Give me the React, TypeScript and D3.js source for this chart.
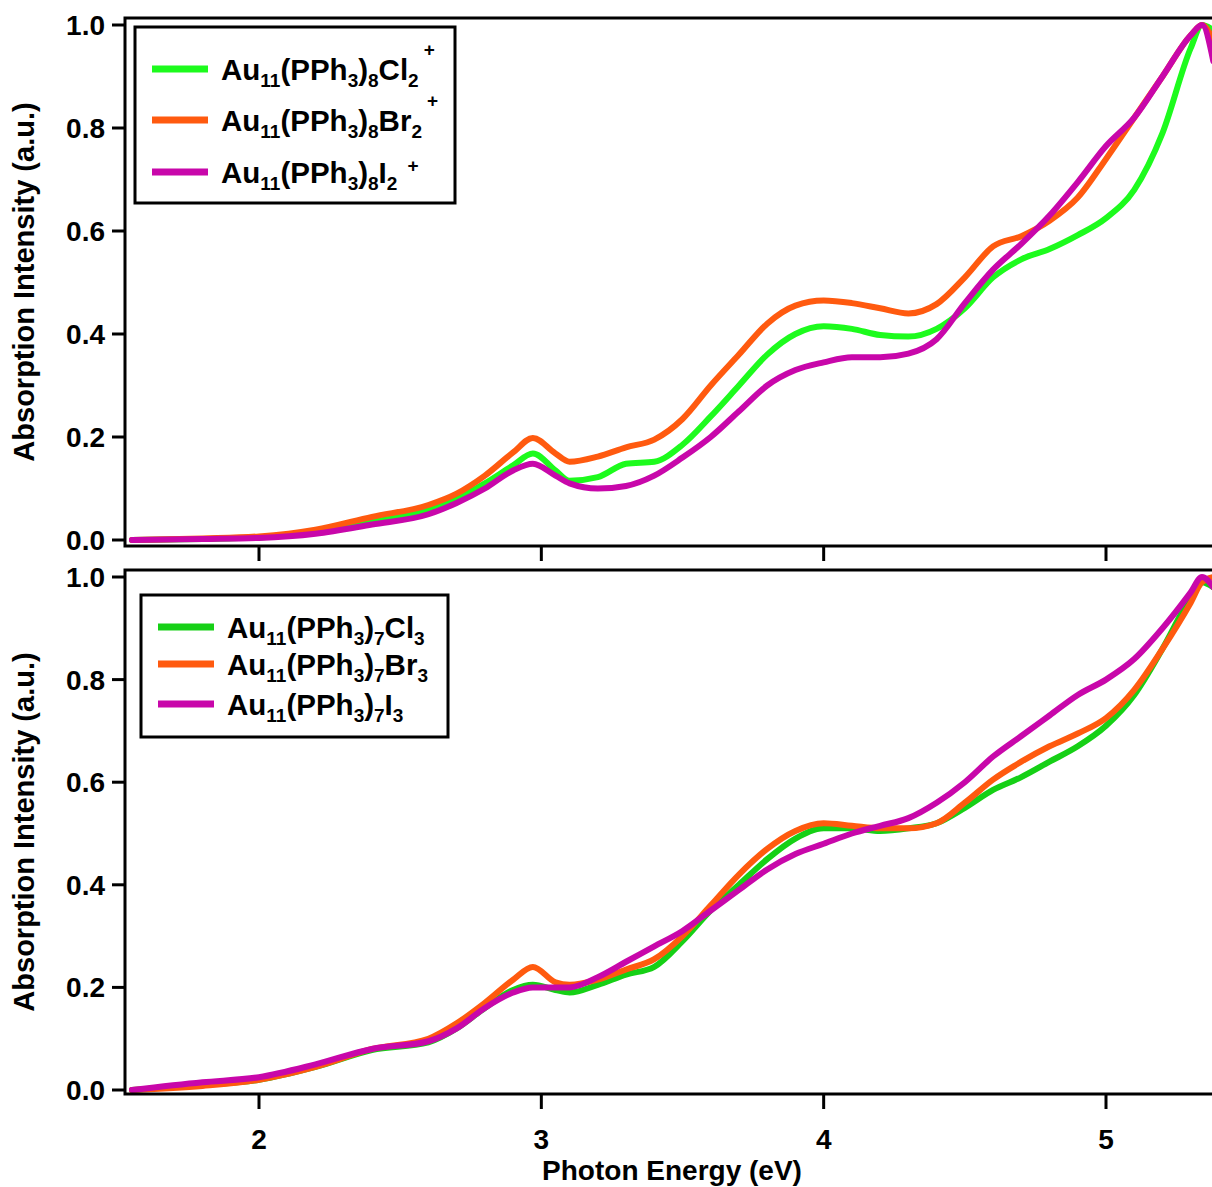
import React from "react";
import * as d3 from "d3";

const energy = [1.55, 1.8, 2.0, 2.2, 2.4, 2.6, 2.7, 2.8, 2.9, 2.97, 3.05, 3.1, 3.2, 3.3, 3.4, 3.5, 3.6, 3.7, 3.8, 3.9, 4.0, 4.1, 4.2, 4.3, 4.4, 4.5, 4.6, 4.7, 4.8, 4.9, 5.0, 5.1, 5.2, 5.3, 5.34, 5.38];

const topCl = [0.0, 0.002, 0.005, 0.015, 0.035, 0.058, 0.08, 0.11, 0.145, 0.168, 0.135, 0.115, 0.122, 0.148, 0.152, 0.185, 0.24, 0.3, 0.36, 0.4, 0.415, 0.41, 0.398, 0.395, 0.41, 0.45, 0.51, 0.545, 0.565, 0.592, 0.625, 0.68, 0.79, 0.955, 1.0, 0.99];
const topBr = [0.0, 0.003, 0.007, 0.02, 0.045, 0.068, 0.09, 0.125, 0.17, 0.198, 0.168, 0.152, 0.162, 0.18, 0.195, 0.235, 0.3, 0.36, 0.42, 0.455, 0.465, 0.46, 0.45, 0.44, 0.458, 0.51, 0.57, 0.59, 0.62, 0.665, 0.74, 0.82, 0.9, 0.98, 1.0, 0.97];
const topI = [0.0, 0.002, 0.004, 0.012, 0.03, 0.05, 0.072, 0.1, 0.135, 0.148, 0.125, 0.11, 0.1, 0.105, 0.125, 0.16, 0.2, 0.25, 0.3, 0.33, 0.345, 0.355, 0.355, 0.362, 0.39, 0.46, 0.525, 0.575, 0.63, 0.695, 0.765, 0.82, 0.9, 0.98, 1.0, 0.93];

const botCl = [0.0, 0.01, 0.02, 0.045, 0.078, 0.093, 0.12, 0.16, 0.195, 0.205, 0.195, 0.19, 0.205, 0.225, 0.24, 0.29, 0.35, 0.4, 0.45, 0.49, 0.51, 0.51, 0.505, 0.51, 0.52, 0.55, 0.585, 0.61, 0.64, 0.67, 0.71, 0.77, 0.86, 0.96, 0.99, 0.98];
const botBr = [0.0, 0.008, 0.02, 0.045, 0.08, 0.1, 0.13, 0.17, 0.215, 0.24, 0.21, 0.205, 0.215, 0.235, 0.255, 0.3, 0.36, 0.42, 0.47, 0.505, 0.52, 0.515, 0.51, 0.51, 0.52, 0.56, 0.605, 0.64, 0.67, 0.695, 0.725, 0.78, 0.86, 0.95, 0.99, 1.0];
const botI = [0.0, 0.015, 0.025, 0.05, 0.08, 0.095, 0.12, 0.16, 0.19, 0.2, 0.2, 0.2, 0.22, 0.25, 0.28, 0.31, 0.35, 0.39, 0.43, 0.46, 0.48, 0.5, 0.515, 0.53, 0.56, 0.6, 0.65, 0.69, 0.73, 0.77, 0.8, 0.84, 0.9, 0.97, 1.0, 0.98];

const xTicks = [2, 3, 4, 5];
const yTicks = [0, 0.2, 0.4, 0.6, 0.8, 1.0];

const COLORS = { greenTop: "#1dfb1d", greenBot: "#16d016", orange: "#ff5a0f", purple: "#c807aa" };

const W = 1212, H = 1187;
const x = d3.scaleLinear().domain([2, 5]).range([259, 1106]);
const yTop = d3.scaleLinear().domain([0, 1]).range([540, 25]);
const yBot = d3.scaleLinear().domain([0, 1]).range([1090, 577]);

const FONT = "'Liberation Sans', Arial, Helvetica, sans-serif";

function Formula({ x0, y0, n, hal, sub, plus, plusLow }: any) {
  return (
    <text x={x0} y={y0} fontFamily={FONT} fontWeight="bold" fontSize={29.5} fill="#000">
      <tspan>Au</tspan>
      <tspan fontSize={19} dy={7}>11</tspan>
      <tspan dy={-7}>(PPh</tspan>
      <tspan fontSize={19} dy={7}>3</tspan>
      <tspan dy={-7}>)</tspan>
      <tspan fontSize={19} dy={7}>{n}</tspan>
      <tspan dy={-7}>{hal}</tspan>
      <tspan fontSize={19} dy={7}>{sub}</tspan>
      {plus ? (
        <tspan fontSize={19} dx={plusLow ? 10 : 5} dy={plusLow ? -18 : -31}>+</tspan>
      ) : null}
    </text>
  );
}

function Panel({ y, top, bottom, series, legend, legendBox }: any) {
  const line = (vals: number[]) =>
    d3.line<number>().x((_, i) => x(energy[i])).y((v) => y(v)).curve(d3.curveMonotoneX)(vals) || "";
  return (
    <g>
      <defs>
        <clipPath id={`clip${top}`}>
          <rect x={125} y={top} width={W} height={bottom - top} />
        </clipPath>
      </defs>
      <g clipPath={`url(#clip${top})`}>
        {series.map((s: any, i: number) => (
          <path key={i} d={line(s.vals)} fill="none" stroke={s.color} strokeWidth={6} strokeLinejoin="round" strokeLinecap="round" />
        ))}
      </g>
      <rect x={125} y={top} width={W} height={bottom - top} fill="none" stroke="#000" strokeWidth={3} />
      {yTicks.map((t) => (
        <g key={t}>
          <line x1={112} x2={125} y1={y(t)} y2={y(t)} stroke="#000" strokeWidth={3} />
          <text x={105} y={y(t) + 10} textAnchor="end" fontFamily={FONT} fontWeight="bold" fontSize={28}>
            {t.toFixed(1)}
          </text>
        </g>
      ))}
      {xTicks.map((t) => (
        <line key={t} x1={x(t)} x2={x(t)} y1={bottom} y2={bottom + 15} stroke="#000" strokeWidth={3} />
      ))}
      <text
        transform={`translate(34, ${(top + bottom) / 2}) rotate(-90)`}
        textAnchor="middle"
        fontFamily={FONT}
        fontWeight="bold"
        fontSize={29}
      >
        Absorption Intensity (a.u.)
      </text>
      <rect x={legendBox.x} y={legendBox.y} width={legendBox.w} height={legendBox.h} fill="#fff" stroke="#000" strokeWidth={3} />
      {legend.map((l: any, i: number) => (
        <g key={i}>
          <line x1={legendBox.x + 17} x2={legendBox.x + 73} y1={l.ly} y2={l.ly} stroke={l.color} strokeWidth={7} />
          <Formula x0={legendBox.x + 86} y0={l.ly + 11} {...l} />
        </g>
      ))}
    </g>
  );
}

export default function App() {
  return (
    <svg width={W} height={H} style={{ position: "absolute", left: 0, top: 0, background: "#fff" }}>
      <rect x={0} y={0} width={W} height={H} fill="#fff" />
      <Panel
        y={yTop}
        top={18}
        bottom={546}
        series={[
          { vals: topCl, color: COLORS.greenTop },
          { vals: topBr, color: COLORS.orange },
          { vals: topI, color: COLORS.purple },
        ]}
        legendBox={{ x: 135, y: 27, w: 320, h: 176 }}
        legend={[
          { ly: 69, color: COLORS.greenTop, n: "8", hal: "Cl", sub: "2", plus: true },
          { ly: 120, color: COLORS.orange, n: "8", hal: "Br", sub: "2", plus: true },
          { ly: 172, color: COLORS.purple, n: "8", hal: "I", sub: "2", plus: true, plusLow: true },
        ]}
      />
      <Panel
        y={yBot}
        top={570}
        bottom={1094}
        series={[
          { vals: botCl, color: COLORS.greenBot },
          { vals: botBr, color: COLORS.orange },
          { vals: botI, color: COLORS.purple },
        ]}
        legendBox={{ x: 141, y: 595, w: 307, h: 142 }}
        legend={[
          { ly: 627, color: COLORS.greenBot, n: "7", hal: "Cl", sub: "3" },
          { ly: 664, color: COLORS.orange, n: "7", hal: "Br", sub: "3" },
          { ly: 704, color: COLORS.purple, n: "7", hal: "I", sub: "3" },
        ]}
      />
      {xTicks.map((t) => (
        <text key={t} x={x(t)} y={1149} textAnchor="middle" fontFamily={FONT} fontWeight="bold" fontSize={28}>
          {t}
        </text>
      ))}
      <text x={672} y={1180} textAnchor="middle" fontFamily={FONT} fontWeight="bold" fontSize={28}>
        Photon Energy (eV)
      </text>
    </svg>
  );
}
